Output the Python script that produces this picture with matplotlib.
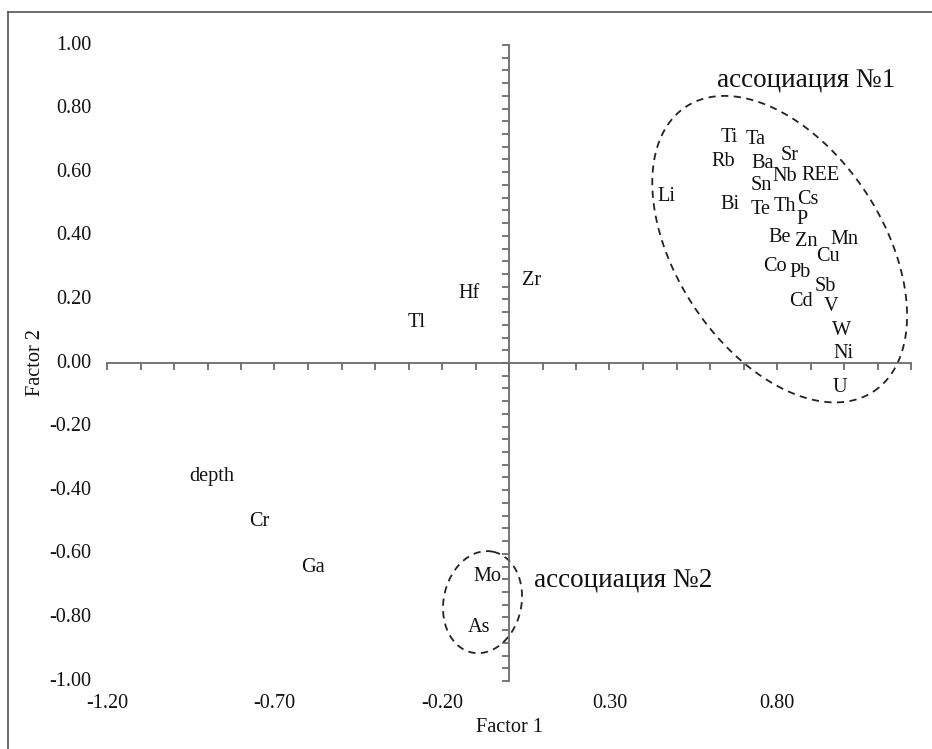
import numpy as np
import matplotlib
matplotlib.use("Agg")
import matplotlib.pyplot as plt
from matplotlib.lines import Line2D
from matplotlib.transforms import blended_transform_factory

plt.rcParams["font.family"] = ["Liberation Serif", "DejaVu Serif"]

# factor loadings (Factor 1, Factor 2)
ELEMENTS = ["Ti", "Ta", "Rb", "Ba", "Sr", "Nb", "REE", "Sn", "Li", "Bi", "Te",
            "Th", "Cs", "P", "Be", "Zn", "Mn", "Cu", "Co", "Pb", "Sb", "Cd",
            "V", "W", "Ni", "U", "Zr", "Hf", "Tl", "depth", "Cr", "Ga", "Mo", "As"]
F1 = [0.657, 0.737, 0.641, 0.758, 0.838, 0.823, 0.930, 0.754, 0.469, 0.659, 0.752,
      0.823, 0.893, 0.875, 0.808, 0.888, 1.000, 0.953, 0.794, 0.870, 0.945, 0.870,
      0.960, 0.994, 1.000, 0.988, 0.067, -0.118, -0.275, -0.886, -0.746, -0.584,
      -0.063, -0.090]
F2 = [0.710, 0.703, 0.633, 0.627, 0.653, 0.586, 0.591, 0.559, 0.523, 0.497, 0.483,
      0.491, 0.514, 0.450, 0.395, 0.382, 0.388, 0.334, 0.303, 0.284, 0.240, 0.192,
      0.177, 0.101, 0.030, -0.076, 0.261, 0.217, 0.126, -0.358, -0.497, -0.643,
      -0.672, -0.831]

# association outlines: centre (data), semi-axes (px), angle (deg), caption pos
GROUPS = [("ассоциация №1", (0.808, 0.358), 170.5, 103.2, -56.6, (0.886, 0.890)),
          ("ассоциация №2", (-0.079, -0.752), 51.5, 38.9, 78.1, (0.341, -0.682))]

XMIN, XMAX = -1.2, 1.2
YMIN, YMAX = -1.0, 1.0
XMAJ = np.arange(-1.2, 0.81, 0.5)
XMIN_T = np.arange(-1.2, 1.201, 0.1)
YMAJ = np.arange(-1.0, 1.001, 0.2)
YMIN_T = np.arange(-1.0, 1.001, 0.04)

AXC = "#6b6b6b"
TXT = "#111111"
FS = 14.6

fig = plt.figure(figsize=(9.32, 7.49), dpi=100)
ax = fig.add_axes([107 / 932, 68 / 749, 804 / 932, 636 / 749])
ax.set_xlim(XMIN, XMAX)
ax.set_ylim(YMIN, YMAX)

for s in ["top", "right"]:
    ax.spines[s].set_visible(False)
ax.spines["left"].set_position(("data", 0))
ax.spines["bottom"].set_position(("data", 0))
for s in ["left", "bottom"]:
    ax.spines[s].set_color(AXC)
    ax.spines[s].set_linewidth(1.3)

ax.set_xticks(XMAJ)
ax.set_xticks(XMIN_T, minor=True)
ax.set_yticks(YMAJ)
ax.set_yticks(YMIN_T, minor=True)
ax.tick_params(which="both", colors=AXC, labelbottom=False, labelleft=False,
               direction="out", length=5, width=1.3)

# tick labels at the low edge (Excel "low" position)
ty = blended_transform_factory(ax.transAxes, ax.transData)
for v in YMAJ:
    ax.annotate(f"{round(v, 2) + 0.0:.2f}", xy=(0, v), xycoords=ty,
                xytext=(-11.5, 0), textcoords="offset points", ha="right",
                va="center", fontsize=FS, color=TXT)
tx = blended_transform_factory(ax.transData, ax.transAxes)
for v in XMAJ:
    ax.annotate(f"{round(v, 2) + 0.0:.2f}", xy=(v, 0), xycoords=tx,
                xytext=(0, -16), textcoords="offset points", ha="center",
                va="center", fontsize=FS, color=TXT)

# point labels (markers hidden)
ax.scatter(F1, F2, s=0)
for name, x, y in zip(ELEMENTS, F1, F2):
    ax.text(x, y, name, ha="center", va="center", fontsize=FS, color=TXT)

# dashed association ellipses
ppx = ax.transData.transform((1, 0))[0] - ax.transData.transform((0, 0))[0]
ppy = ax.transData.transform((0, 1))[1] - ax.transData.transform((0, 0))[1]
t = np.linspace(0, 2 * np.pi, 400)
for label, (cx, cy), a, b, ang, (lx, ly) in GROUPS:
    th = np.deg2rad(ang)
    dx = a * np.cos(t) * np.cos(th) - b * np.sin(t) * np.sin(th)
    dy = a * np.cos(t) * np.sin(th) + b * np.sin(t) * np.cos(th)
    ax.plot(cx + dx / ppx, cy + dy / ppy, color="#222222", lw=1.3,
            linestyle=(0, (4, 3)), clip_on=False)
    ax.text(lx, ly, label, ha="center", va="center", fontsize=19.5, color=TXT)

fig.text(510 / 932, 1 - 727 / 749, "Factor 1", ha="center", va="center",
         fontsize=FS, color=TXT)
fig.text(35 / 932, 1 - 362 / 749, "Factor 2", ha="center", va="center",
         rotation=90, fontsize=FS, color=TXT)

# chart-area frame (top and left edges visible in the crop)
fig.add_artist(Line2D([8 / 932, 1], [1 - 12 / 749] * 2, color="#555555", lw=1.2))
fig.add_artist(Line2D([8 / 932] * 2, [0, 1 - 12 / 749], color="#555555", lw=1.2))

fig.savefig("out.png", dpi=100)
